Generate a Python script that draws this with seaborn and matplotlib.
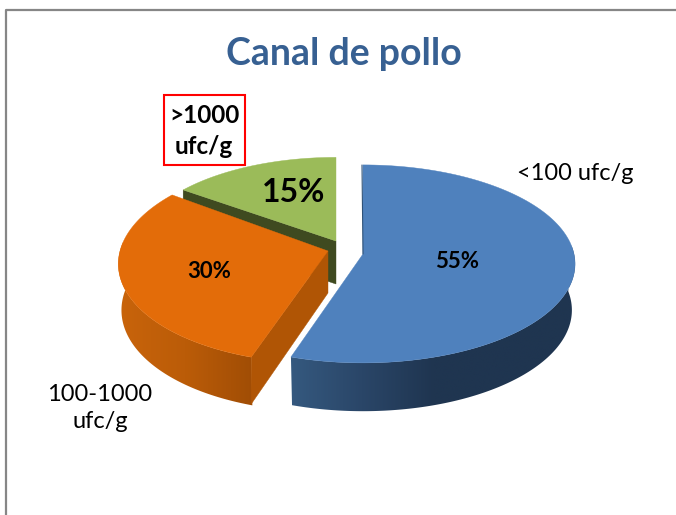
import numpy as np
import matplotlib
matplotlib.use("Agg")
import matplotlib.pyplot as plt
from matplotlib.patches import Polygon, Rectangle
from matplotlib.colors import LinearSegmentedColormap
import seaborn as sns

categories = ["<100 ufc/g", "100-1000\nufc/g", ">1000\nufc/g"]
values = [55, 30, 15]
top_colors = ["#4f81bd", "#e36c09", "#9bbb59"]
title = "Canal de pollo"

sns.set_theme(style="white")
plt.rcParams["font.family"] = ["Lato", "DejaVu Sans"]
palette = sns.color_palette(top_colors)

fig, ax = plt.subplots(figsize=(6.76, 5.15), dpi=100)
ax.set_position([0, 0, 1, 1])
ax.axis("off")

# cumulative clockwise angles from 12 o'clock, from the data
edges = np.radians(np.concatenate([[0], np.cumsum(values)]) / sum(values) * 360)
PERSP = 0.1
DEPTH = 46


def project(theta, apex, rx, ry, shear=0.0, lower=False):
    u, v = np.sin(theta), np.cos(theta)
    w = 1 + PERSP * v
    x = apex[0] + rx * u / w + shear * v / w
    y = apex[1] - ry * v / w
    if lower:
        x = apex[0] + (x - apex[0]) * 0.985
        y = y + DEPTH * (1 - 0.05 * v)
    return x, y


def draw_wall(t0, t1, apex, rx, ry, shear, stops, z):
    th = np.linspace(t0, t1, 160)
    xt, yt = project(th, apex, rx, ry, shear)
    xb, yb = project(th, apex, rx, ry, shear, lower=True)
    pts = list(zip(xt, yt)) + list(zip(xb[::-1], yb[::-1]))
    poly = Polygon(pts, closed=True, fc="none", ec="none", transform=ax.transData)
    ax.add_patch(poly)
    x0, x1 = min(xt.min(), xb.min()) - 1, max(xt.max(), xb.max()) + 1
    y0, y1 = min(yt.min(), yb.min()) - 1, max(yt.max(), yb.max()) + 1
    cmap = LinearSegmentedColormap.from_list("wall", stops)
    im = ax.imshow(np.linspace(0, 1, 256)[None, :], cmap=cmap, aspect="auto",
                   extent=(x0, x1, y1, y0), zorder=z, interpolation="bilinear")
    im.set_clip_path(poly)


def draw_top(t0, t1, apex, rx, ry, shear, color, z):
    th = np.linspace(t0, t1, 120)
    x, y = project(th, apex, rx, ry, shear)
    pts = [apex] + list(zip(x, y))
    ax.add_patch(Polygon(pts, closed=True, fc=color, ec=color, lw=0.3, zorder=z))


# green slice
g = dict(apex=(336.0, 241.0), rx=200, ry=92, shear=0)
xs, ys = project(np.array([edges[2]]), **g)
ax.add_patch(Polygon([g["apex"], (xs[0], ys[0]), (xs[0], ys[0] + 43), (336, 284)],
                     closed=True, fc="#3f4a20", ec="#3f4a20", lw=0.3, zorder=1))
draw_top(edges[2], edges[3], g["apex"], g["rx"], g["ry"], g["shear"], palette[2], 2)

# orange slice
o = dict(apex=(328.0, 251.0), rx=208, ry=101, shear=5.5)
xs, ys = project(np.array([edges[1]]), **o)
draw_wall(np.radians(275), edges[1], o["apex"], o["rx"], o["ry"], o["shear"],
          ["#c9640b", "#bb5c08", "#a04d05"], 3)
ax.add_patch(Polygon([o["apex"], (xs[0], ys[0]), (xs[0], ys[0] + 47), (328, 293)],
                     closed=True, fc="#b05505", ec="#b05505", lw=0.3, zorder=3.5))
draw_top(edges[1], edges[2], o["apex"], o["rx"], o["ry"], o["shear"], palette[1], 4)

# blue slice
b = dict(apex=(363.0, 254.0), rx=211, ry=98, shear=0)
draw_wall(np.radians(85), edges[1], b["apex"], b["rx"], b["ry"], b["shear"],
          ["#35597f", "#2a4668", "#1f3550", "#1f3550", "#1f3550"], 5)
draw_top(edges[0], edges[1], b["apex"], b["rx"], b["ry"], b["shear"], palette[0], 6)
ax.plot([362, 363], [165, 254], color="#2f5278", lw=0.8, zorder=7)

# frame
ax.plot([5.5, 5.5, 676], [515, 9.5, 9.5], color="#868686", lw=1.6, zorder=0,
        clip_on=False)

# texts
ax.text(344, 54, title, color="#376092", fontsize=27, fontweight="bold",
        ha="center", va="center")
ax.text(575, 174, categories[0], fontsize=17, color="black", ha="center", va="center")
ax.text(100, 408, categories[1], fontsize=17, color="black", ha="center", va="center",
        linespacing=1.3)
ax.add_patch(Rectangle((163.5, 94.5), 81, 70, fc="none", ec="#ff0000", lw=1.5, zorder=8))
ax.text(204, 131, categories[2], fontsize=17.5, fontweight="bold", color="black",
        ha="center", va="center", linespacing=1.4, zorder=9)
ax.text(457, 261, f"{values[0]}%", fontsize=16, fontweight="bold", color="black",
        ha="center", va="center", zorder=9)
ax.text(209, 272, f"{values[1]}%", fontsize=16, fontweight="bold", color="black",
        ha="center", va="center", zorder=9)
ax.text(294, 192, f"{values[2]}%", fontsize=23, fontweight="bold", color="black",
        ha="center", va="center", zorder=9)

ax.set_xlim(0, 676)
ax.set_ylim(515, 0)
fig.savefig("out.png", dpi=100, facecolor="white")
